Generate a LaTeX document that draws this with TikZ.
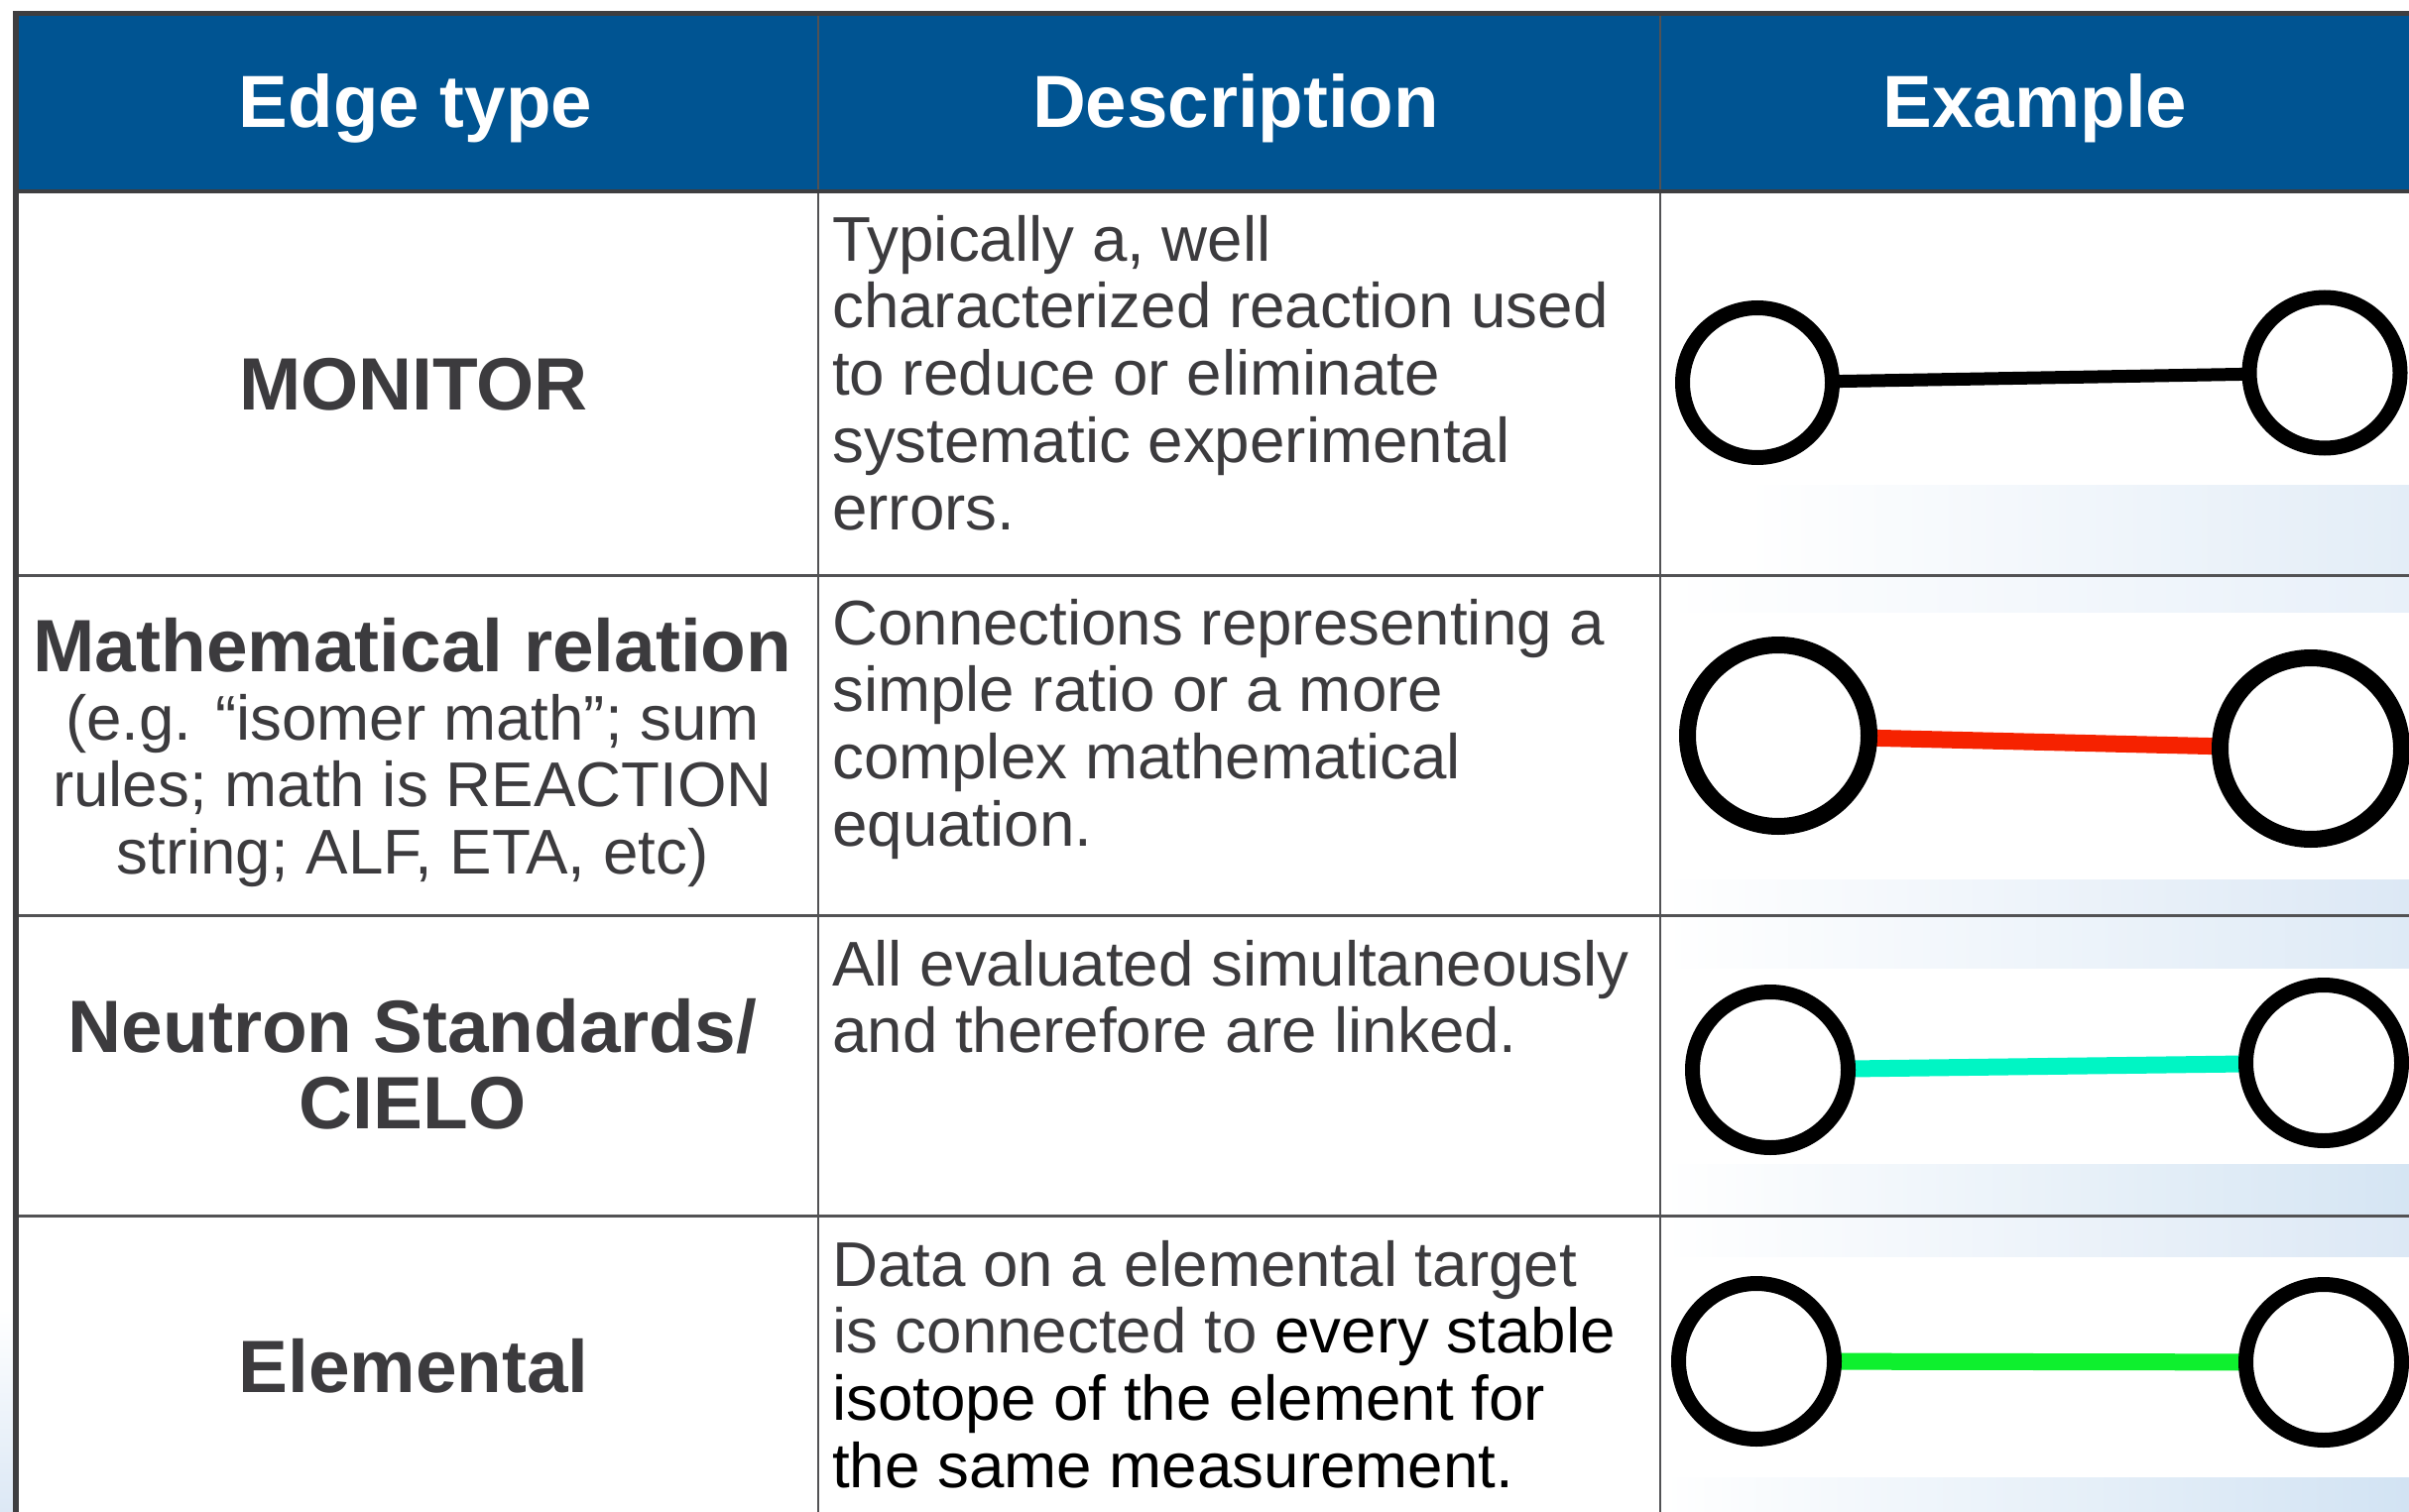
\documentclass[tikz,border=0pt]{standalone}
\usepackage{fontspec}
\setmainfont{Liberation Sans}
\pgfdeclarelayer{back}
\pgfdeclarelayer{links}
\pgfsetlayers{back,links,main}

\definecolor{hdrblue}{RGB}{0,84,146}
\definecolor{gridgray}{RGB}{82,82,84}
\definecolor{framegray}{RGB}{62,62,64}
\definecolor{txtgray}{RGB}{60,59,62}
\definecolor{edgered}{RGB}{246,34,0}
\definecolor{edgecyan}{RGB}{0,245,196}
\definecolor{edgegreen}{RGB}{14,240,46}
\definecolor{bandA}{RGB}{227,237,247}
\definecolor{bandB}{RGB}{232,240,249}
\definecolor{bandC}{RGB}{220,232,245}
\definecolor{bandD}{RGB}{222,234,246}
\definecolor{bandE}{RGB}{213,229,243}
\definecolor{bandF}{RGB}{210,227,243}

\tikzset{
  hdr/.style={text=white, font=\fontsize{74.5}{80}\selectfont\bfseries, anchor=base, inner sep=0pt},
  kind/.style={text=txtgray, anchor=base, inner sep=0pt},
  desc/.style={text=txtgray, anchor=base west, inner sep=0pt},
  ring/.style={circle, draw=black, fill=white, line width=#1, inner sep=0pt},
  link/.style={line width=#1, shorten <=-6pt, shorten >=-6pt},
  rule/.style={draw=gridgray, line width=3pt},
}

\newcommand{\bigbold}{\fontsize{74.8}{77}\selectfont\bfseries}
\newcommand{\bodysize}{\fontsize{63.7}{67.8}\selectfont}

\begin{document}
\begin{tikzpicture}[x=1pt, y=-1pt]
  \useasboundingbox (0,0) rectangle (2429,1525);

  % page and pale background bands in the example column
  \begin{pgfonlayer}{back}
    \fill[white] (0,0) rectangle (2429,1525);
    \shade[top color=white, bottom color=bandC] (0,1320) rectangle (14,1525);
    \shade[left color=white, right color=bandA] (1760,489) rectangle (2429,579);
    \shade[left color=white, right color=bandB] (1677,581) rectangle (2429,617);
    \shade[left color=white, right color=bandC] (1677,887) rectangle (2429,922);
    \shade[left color=white, right color=bandD] (1677,924) rectangle (2429,976);
    \shade[left color=white, right color=bandE] (1677,1174) rectangle (2429,1225);
    \shade[left color=white, right color=bandC] (1677,1227) rectangle (2429,1267);
    \shade[left color=white, right color=bandF] (1677,1490) rectangle (2429,1525);

    % header band
    \fill[hdrblue] (16,14) rectangle (2429,193);

    % table rules
    \draw[rule] (16,580) -- (2429,580);
    \draw[rule] (16,923) -- (2429,923);
    \draw[rule] (16,1226) -- (2429,1226);
    \draw[rule, line width=2.5pt] (825,14) -- (825,1525);
    \draw[rule, line width=2.5pt] (1674,14) -- (1674,1525);
    \draw[framegray, line width=4pt] (16,193) -- (2429,193);
    \draw[framegray, line width=5pt] (13,13.5) -- (2429,13.5);
    \draw[framegray, line width=6pt] (16,11) -- (16,1525);
  \end{pgfonlayer}

  % header
  \node[hdr] (hType) at (419,129) {Edge type};
  \node[hdr] (hDesc) at (1246,129) {Description};
  \node[hdr] (hExam) at (2052,129) {Example};

  % edge type column
  \node[kind] (kMon) at (417,413) {\bigbold MONITOR};
  \node[kind] (kMath) at (416,677) {\bigbold Mathematical relation};
  \node[kind] (kMathNote) at (416,746)
    {\parbox[t]{800pt}{\centering\bodysize (e.g. “isomer math”; sum\\rules; math is REACTION\\string; ALF, ETA, etc)}};
  \node[kind] (kStd) at (416,1061)
    {\parbox[t]{800pt}{\centering\bigbold Neutron Standards/\\CIELO}};
  \node[kind] (kElem) at (417,1404) {\bigbold Elemental};

  % description column
  \node[desc] (dMon) at (839,263)
    {\parbox[t]{830pt}{\raggedright\bodysize Typically a, well\\characterized reaction used\\to reduce or eliminate\\systematic experimental\\errors.}};
  \node[desc] (dMath) at (839,650)
    {\parbox[t]{830pt}{\raggedright\bodysize Connections representing a\\simple ratio or a more\\complex mathematical\\equation.}};
  \node[desc] (dStd) at (839,994)
    {\parbox[t]{830pt}{\raggedright\bodysize All evaluated simultaneously\\and therefore are linked.}};
  \node[desc] (dElem) at (839,1297)
    {\parbox[t]{830pt}{\raggedright\bodysize Data on a elemental target\\is connected to \textcolor{black}{every stable}\\\textcolor{black}{isotope of the element for}\\\textcolor{black}{the same measurement.}}};

  % example column: two nodes joined by an edge in each row
  \node[ring=15pt, minimum size=151pt] (mA) at (1772,386) {};
  \node[ring=15pt, minimum size=152pt] (mB) at (2344,376) {};
  \node[ring=17pt, minimum size=183pt] (rA) at (1793,742) {};
  \node[ring=17pt, minimum size=183pt] (rB) at (2330,755) {};
  \node[ring=15pt, minimum size=157pt] (cA) at (1785,1079) {};
  \node[ring=15pt, minimum size=157pt] (cB) at (2343,1072) {};
  \node[ring=15pt, minimum size=157pt] (gA) at (1771,1373) {};
  \node[ring=15pt, minimum size=157pt] (gB) at (2343,1374) {};

  \begin{pgfonlayer}{links}
    \draw[link=13pt, black] (mA) -- (mB);
    \draw[link=17pt, edgered] (rA) -- (rB);
    \draw[link=17pt, edgecyan] (cA) -- (cB);
    \draw[link=17pt, edgegreen] (gA) -- (gB);
  \end{pgfonlayer}
\end{tikzpicture}
\end{document}
